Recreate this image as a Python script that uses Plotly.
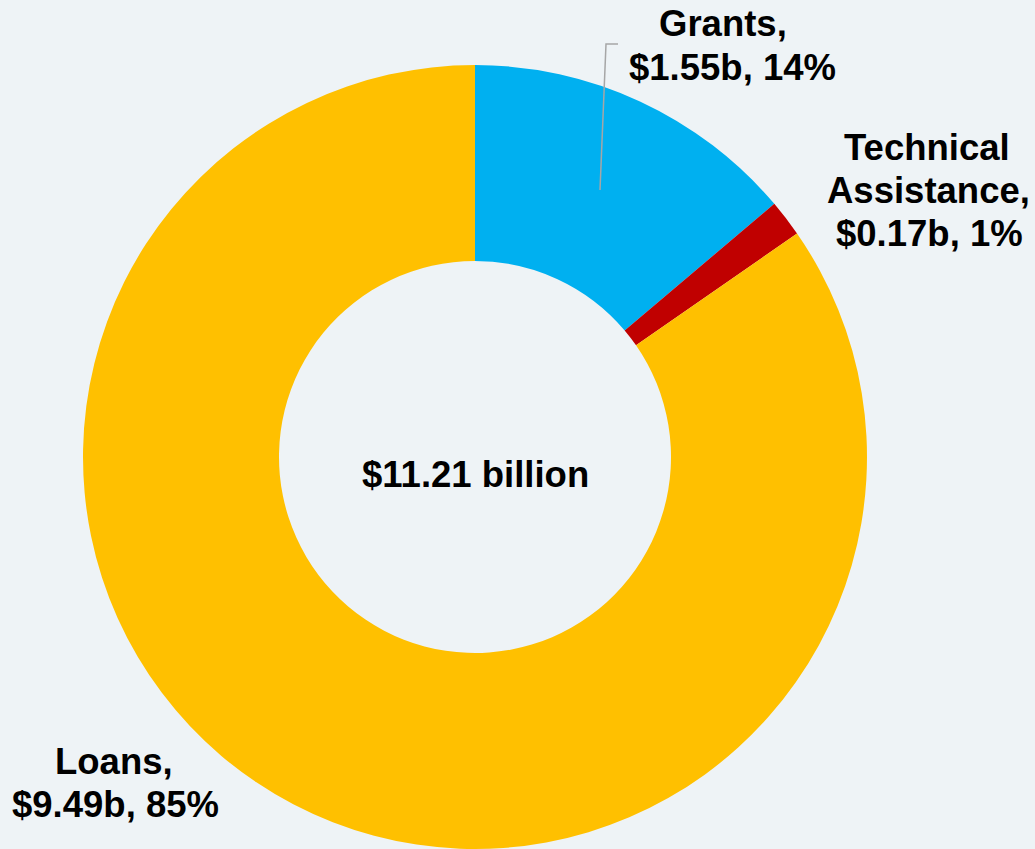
import plotly.graph_objects as go

categories = ["Grants", "Technical<br>Assistance", "Loans"]
values = [1.55, 0.17, 9.49]
percents = [14, 1, 85]
colors = ["#00B0F0", "#C00000", "#FFC000"]
total_label = "$11.21 billion"

W, H = 1035, 849
FONT = "Liberation Sans, Arial, sans-serif"
FS = 36.5
DY = 1.5

fig = go.Figure(go.Pie(
    labels=[c.replace("<br>", " ") for c in categories],
    values=values,
    marker=dict(colors=colors, line=dict(width=0)),
    hole=0.5,
    sort=False,
    direction="clockwise",
    rotation=0,
    textinfo="none",
    hoverinfo="skip",
    showlegend=False,
    domain=dict(x=[(475 - 392) / W, (475 + 392) / W], y=[0, 784 / H]),
))

# per-line label positions in pixels: (x center, y middle of caps)
line_pos = [
    [(723, 22.5), (732, 65.5)],
    [(927, 146), (928, 189), (929, 232)],
    [(114, 760), (115, 803)],
]
for cat, v, p, poss in zip(categories, values, percents, line_pos):
    lines = (cat + ",").split("<br>") + [f"${v:.2f}b, {p}%"]
    for txt, (px, py) in zip(lines, poss):
        fig.add_annotation(
            x=px / W, y=1 - (py + DY) / H, xref="paper", yref="paper",
            text=f"<b>{txt}</b>",
            showarrow=False, xanchor="center", yanchor="middle",
            font=dict(family=FONT, size=FS, color="black"),
        )

fig.add_annotation(
    x=475 / W, y=1 - (473 + DY) / H, xref="paper", yref="paper",
    text=f"<b>{total_label}</b>", showarrow=False,
    xanchor="center", yanchor="middle",
    font=dict(family=FONT, size=FS, color="black"),
)

# leader line for Grants
pts = [(600, 190), (606, 44), (618, 44)]
path = "M " + " L ".join(f"{x / W},{1 - y / H}" for x, y in pts)
fig.add_shape(type="path", path=path, xref="paper", yref="paper",
              line=dict(color="#A6A6A6", width=1.5))

fig.update_layout(
    width=W, height=H,
    margin=dict(l=0, r=0, t=0, b=0),
    paper_bgcolor="#EEF3F6",
    plot_bgcolor="#EEF3F6",
)

fig.write_html(
    "out.html",
    config={"displayModeBar": False},
    post_script="document.body.style.margin='0';document.body.style.overflow='hidden';",
)
